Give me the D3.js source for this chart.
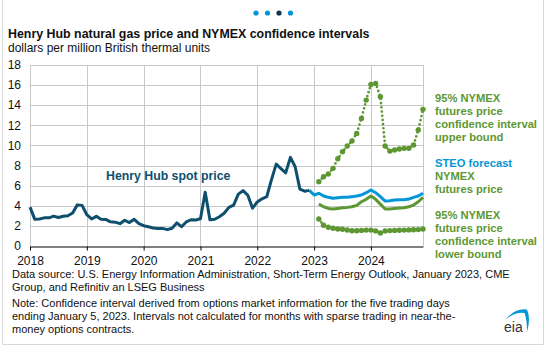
<!DOCTYPE html>
<html><head><meta charset="utf-8">
<script src="https://cdn.jsdelivr.net/npm/d3@7"></script>
<style>
html,body{margin:0;padding:0;background:#fff;}
svg{display:block;font-family:"Liberation Sans",Arial,sans-serif;}
</style></head>
<body><svg id="c" width="546" height="348"></svg>
<script>
// ---- data (monthly, month index 0 = Jan 2018) ----
const years = [2018, 2019, 2020, 2021, 2022, 2023, 2024];
const yTicks = [0, 2, 4, 6, 8, 10, 12, 14, 16, 18];
// Henry Hub spot price, Jan 2018 - Dec 2022
const henryHubStart = 0;
const henryHub = [3.87,2.67,2.69,2.80,2.80,2.97,2.83,2.96,3.00,3.28,4.09,4.04,
  3.11,2.69,2.95,2.65,2.64,2.40,2.37,2.22,2.56,2.33,2.65,2.22,
  2.02,1.91,1.79,1.74,1.75,1.63,1.77,2.30,1.92,2.39,2.61,2.59,
  2.71,5.35,2.62,2.66,2.91,3.26,3.84,4.07,5.16,5.51,5.05,3.76,
  4.38,4.69,4.90,6.60,8.14,7.70,7.28,8.81,7.88,5.66,5.45,5.53];
// STEO forecast, Dec 2022 - Dec 2024
const steoStart = 59;
const steo = [5.53,5.07,5.24,4.97,4.84,4.74,4.80,4.84,4.84,4.90,4.97,5.07,5.30,
  5.57,5.30,4.90,4.47,4.50,4.57,4.60,4.60,4.67,4.84,4.97,5.24];
// NYMEX futures and 95% confidence bounds, Feb 2023 - Dec 2024
const nymexStart = 61;
const nymex = [4.17,3.90,3.74,3.68,3.74,3.80,3.84,3.90,4.04,4.40,4.64,
  4.97,4.64,4.17,3.68,3.68,3.74,3.78,3.80,3.90,4.07,4.40,4.84];
const upper = [6.40,6.89,7.16,7.72,8.68,9.37,9.94,10.44,11.20,12.69,14.51,
  16.07,16.17,14.84,9.94,9.44,9.54,9.64,9.71,9.71,10.04,11.53,13.59];
const lower = [2.68,2.06,1.86,1.76,1.69,1.66,1.59,1.52,1.52,1.55,1.58,
  1.58,1.50,1.30,1.50,1.53,1.55,1.57,1.58,1.60,1.62,1.63,1.69];

const C_DARK = "#0e4f6e", C_BLUE = "#0096d7", C_GREEN = "#5d9732";

const svg = d3.select("#c");
// outer frame
svg.append("path").attr("d","M2.5,0V344.5H543.5V0").attr("fill","none").attr("stroke","#d9d9d9");

// header dots
[[256,C_BLUE],[267.5,C_BLUE],[279,"#0b3550"],[290.5,C_BLUE]].forEach(d=>
  svg.append("circle").attr("cx",d[0]).attr("cy",13).attr("r",2.6).attr("fill",d[1]));

svg.append("text").attr("x",8).attr("y",38).attr("font-size",12.4).attr("font-weight","bold")
  .attr("fill","#111").text("Henry Hub natural gas price and NYMEX confidence intervals");
svg.append("text").attr("x",8).attr("y",52).attr("font-size",12).attr("fill","#111")
  .text("dollars per million British thermal units");

const x = d3.scaleLinear().domain([0, 83]).range([30, 423]);
const y = d3.scaleLinear().domain([0, 18]).range([246, 65]);

const g = svg.append("g");
// horizontal grid
g.append("g").selectAll("line").data(yTicks.slice(1)).join("line")
  .attr("x1",x(0)).attr("x2",x(83)).attr("y1",d=>Math.round(y(d))+0.5).attr("y2",d=>Math.round(y(d))+0.5)
  .attr("stroke","#c8c8c8").attr("stroke-width",1);
// vertical grid
g.append("g").selectAll("line").data(years.map((yr,i)=>i*12).concat([83])).join("line")
  .attr("x1",d=>Math.round(x(d))+0.5).attr("x2",d=>Math.round(x(d))+0.5)
  .attr("y1",y(18)).attr("y2",y(0)).attr("stroke","#c8c8c8").attr("stroke-width",1);

// y labels
g.append("g").selectAll("text").data(yTicks).join("text")
  .attr("x",21).attr("y",d=>y(d)+4.2).attr("text-anchor","end").attr("font-size",12).attr("fill","#111")
  .text(d=>d);

// x axis
const xAxis = d3.axisBottom(x).tickValues(years.map((yr,i)=>i*12)).tickFormat((d,i)=>years[i])
  .tickSize(4).tickSizeOuter(0);
const ax = g.append("g").attr("transform",`translate(0,${y(0)+0.5})`).call(xAxis);
ax.select(".domain").attr("stroke","#000").attr("stroke-width",1.2);
ax.selectAll(".tick line").attr("stroke","#000");
ax.selectAll(".tick text").attr("font-size",12).attr("fill","#111").attr("dy","0.95em")
  .attr("font-family","Liberation Sans, Arial, sans-serif");

const line = d3.line().x(d=>x(d[0])).y(d=>y(d[1]));
const pts = (arr,start)=>arr.map((v,i)=>[start+i,v]);

// dotted bounds
function dotted(arr){
  const p = pts(arr,nymexStart);
  g.append("path").attr("d",line(p)).attr("fill","none").attr("stroke",C_GREEN)
    .attr("stroke-width",2.7).attr("stroke-linecap","round").attr("stroke-dasharray","0 4.2");
  g.append("g").selectAll("circle").data(p).join("circle")
    .attr("cx",d=>x(d[0])).attr("cy",d=>y(d[1])).attr("r",2.7).attr("fill",C_GREEN);
}
dotted(upper);
dotted(lower);

g.append("path").attr("d",line(pts(nymex,nymexStart))).attr("fill","none").attr("stroke",C_GREEN)
  .attr("stroke-width",3).attr("stroke-linejoin","round");
g.append("path").attr("d",line(pts(steo,steoStart))).attr("fill","none").attr("stroke",C_BLUE)
  .attr("stroke-width",3).attr("stroke-linejoin","round");
g.append("path").attr("d",line(pts(henryHub,henryHubStart))).attr("fill","none").attr("stroke",C_DARK)
  .attr("stroke-width",3).attr("stroke-linejoin","round");

// labels
svg.append("text").attr("x",106).attr("y",180).attr("font-size",12.3).attr("font-weight","bold")
  .attr("fill",C_DARK).text("Henry Hub spot price");

function block(lines, y0){
  lines.forEach((l,i)=>svg.append("text").attr("x",435).attr("y",y0+i*13)
    .attr("font-size",11.2).attr("font-weight","bold").attr("fill",l[1]).text(l[0]));
}
block([["95% NYMEX",C_GREEN],["futures price",C_GREEN],["confidence interval",C_GREEN],["upper bound",C_GREEN]],102);
block([["STEO forecast",C_BLUE],["NYMEX",C_GREEN],["futures price",C_GREEN]],167);
block([["95% NYMEX",C_GREEN],["futures price",C_GREEN],["confidence interval",C_GREEN],["lower bound",C_GREEN]],219);

// footer
const foot = [["Data source: U.S. Energy Information Administration, Short-Term Energy Outlook, January 2023, CME",278],
  ["Group, and Refinitiv an LSEG Business",291],
  ["Note: Confidence interval derived from options market information for the five trading days",307],
  ["ending January 5, 2023. Intervals not calculated for months with sparse trading in near-the-",320],
  ["money options contracts.",333]];
foot.forEach(f=>svg.append("text").attr("x",12).attr("y",f[1]).attr("font-size",11).attr("fill","#111").text(f[0]));

// eia logo
svg.append("text").attr("x",504).attr("y",332).attr("font-size",14).attr("fill","#333").text("eia");
svg.append("path").attr("d","M505,320 Q515,308 527,309.5 Q531,318 527,332 Q527,319 524.5,313 Q515,311.5 505,320 Z")
  .attr("fill",C_BLUE);
</script></body></html>
